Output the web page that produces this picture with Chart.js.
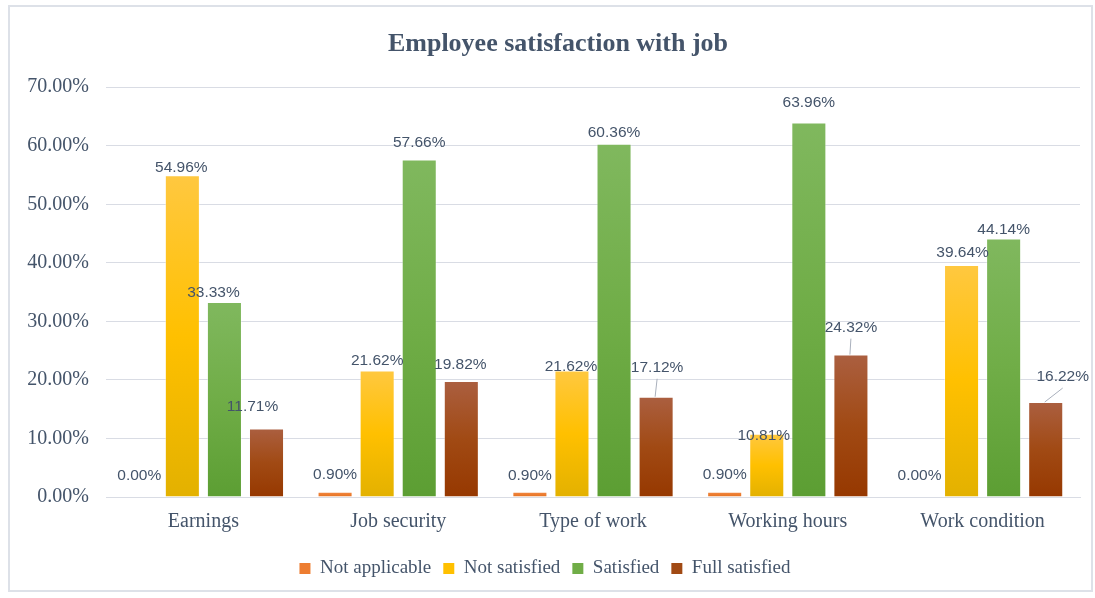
<!DOCTYPE html>
<html>
<head>
<meta charset="utf-8">
<title>Employee satisfaction with job</title>
<script src="https://cdn.jsdelivr.net/npm/chart.js@4.4.1/dist/chart.umd.min.js"></script>
<style>
  html, body { margin: 0; padding: 0; background: #fff; }
  #wrap {
    position: absolute; left: 8px; top: 5px;
    width: 1085px; height: 587px;
    border: 2px solid #dde1e8; box-sizing: border-box;
  }
  #chart { display: block; }
</style>
</head>
<body>
<div id="wrap"><canvas id="chart" width="1081" height="583"></canvas></div>
<script>
// categories and series (percent)
const categories = ['Earnings', 'Job security', 'Type of work', 'Working hours', 'Work condition'];
const seriesNames = ['Not applicable', 'Not satisfied', 'Satisfied', 'Full satisfied'];
const notApplicable = [0.00, 0.90, 0.90, 0.90, 0.00];
const notSatisfied  = [54.96, 21.62, 21.62, 10.81, 39.64];
const satisfied     = [33.33, 57.66, 60.36, 63.96, 44.14];
const fullSatisfied = [11.71, 19.82, 17.12, 24.32, 16.22];
const yTicks = [0, 10, 20, 30, 40, 50, 60, 70];

// bar colours: [top, middle, bottom] of the vertical gradient
const palette = [
    ['#f08a45', '#ed7d31', '#e0701f'],
    ['#ffc840', '#ffc000', '#e3b100'],
    ['#80b85e', '#70ad47', '#5c9e33'],
    ['#ab5f40', '#a14a14', '#963800']
];

// label nudges from the bar top (dx, dy), a few with leader lines
const labelShift = [
    [[-1, -21], [0, -17], [0, -16], [0, -17], [0, -21]],
    [[-1, -8], [0, -10], [-1, -4], [-3, 2], [1, -12]],
    [[-11, -9], [0, -17], [0, -11], [0, -20], [0, -9]],
    [[-14, -22], [-1, -16], [1, -29], [0, -27], [17, -25]]
];
const leaders = ['3-2', '3-3', '3-4'];

const textColor = '#44546a';
const serif = '"Liberation Serif", "DejaVu Serif", serif';

function barFill(i) {
    return (ctx) => {
        const chart = ctx.chart;
        const v = ctx.raw;
        if (!chart.chartArea || ctx.type !== 'data' || !v) return palette[i][1];
        const y = chart.scales.y;
        const top = y.getPixelForValue(v);
        const base = y.getPixelForValue(0);
        const g = chart.ctx.createLinearGradient(0, top, 0, base);
        g.addColorStop(0, palette[i][0]);
        g.addColorStop(0.5, palette[i][1]);
        g.addColorStop(1, palette[i][2]);
        return g;
    };
}

// title sits a little right of the canvas centre
const titleNudge = {
    id: 'titleNudge',
    afterLayout(chart) {
        if (chart.titleBlock) chart.titleBlock.left += 26;
    }
};

const valueLabels = {
    id: 'valueLabels',
    afterDatasetsDraw(chart) {
        const c = chart.ctx;
        c.save();
        c.font = '15.5px "Liberation Sans", Arial, sans-serif';
        c.fillStyle = textColor;
        c.textAlign = 'center';
        c.textBaseline = 'middle';
        chart.data.datasets.forEach((ds, di) => {
            chart.getDatasetMeta(di).data.forEach((bar, i) => {
                const [dx, dy] = labelShift[di][i];
                const lx = bar.x + dx;
                const ly = bar.y + dy;
                if (leaders.includes(di + '-' + i)) {
                    c.strokeStyle = '#a9b0bc';
                    c.lineWidth = 1;
                    c.beginPath();
                    c.moveTo(bar.x - 1, bar.y);
                    c.lineTo(lx, ly + 11);
                    c.stroke();
                }
                c.fillText(ds.data[i].toFixed(2) + '%', lx, ly);
            });
        });
        c.restore();
    }
};

const seriesData = [notApplicable, notSatisfied, satisfied, fullSatisfied];

new Chart(document.getElementById('chart'), {
    type: 'bar',
    data: {
        labels: categories,
        datasets: seriesNames.map((name, i) => ({
            label: name,
            data: seriesData[i],
            backgroundColor: barFill(i),
            borderColor: 'rgba(255,255,255,0.35)',
            borderWidth: 1,
            categoryPercentage: 0.864,
            barPercentage: 0.833
        }))
    },
    options: {
        responsive: false,
        animation: false,
        layout: { padding: { right: 11, bottom: 2 } },
        plugins: {
            title: {
                display: true,
                text: 'Employee satisfaction with job',
                color: textColor,
                font: { family: serif, size: 26, weight: 'bold' },
                padding: { top: 22, bottom: 27 }
            },
            legend: {
                position: 'bottom',
                labels: {
                    color: textColor,
                    font: { family: serif, size: 19 },
                    boxWidth: 11,
                    boxHeight: 11,
                    padding: 12,
                    generateLabels: (chart) => chart.data.datasets.map((d, i) => ({
                        text: d.label,
                        fillStyle: palette[i][1],
                        strokeStyle: palette[i][1],
                        lineWidth: 0,
                        fontColor: textColor,
                        datasetIndex: i,
                        hidden: false
                    }))
                }
            },
            tooltip: { enabled: false }
        },
        scales: {
            x: {
                grid: { display: false, drawTicks: false },
                border: { color: '#d9dce4', width: 1 },
                ticks: {
                    color: textColor,
                    font: { family: serif, size: 20 },
                    padding: 13
                }
            },
            y: {
                min: 0,
                max: 70,
                afterBuildTicks: (scale) => { scale.ticks = yTicks.map(v => ({ value: v })); },
                afterFit: (scale) => { scale.width = 96; },
                grid: { color: '#d9dce4', drawTicks: false },
                border: { display: false },
                ticks: {
                    color: textColor,
                    font: { family: serif, size: 20 },
                    padding: 17,
                    callback: (v) => v.toFixed(2) + '%'
                }
            }
        }
    },
    plugins: [valueLabels, titleNudge]
});
</script>
</body>
</html>
